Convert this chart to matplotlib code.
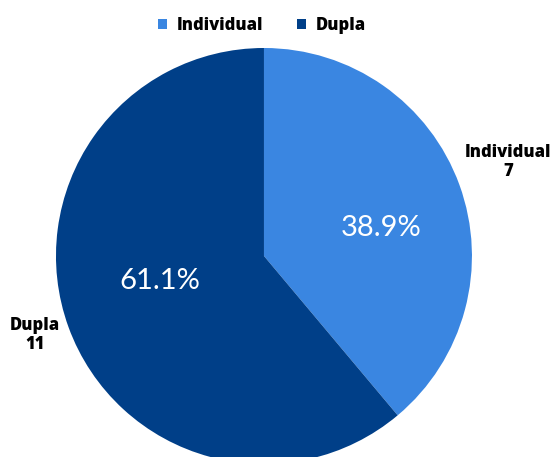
import matplotlib
matplotlib.use("Agg")
import matplotlib.pyplot as plt
import numpy as np

labels = ["Individual", "Dupla"]
counts = [7, 11]
colors = ["#3A86E1", "#003F88"]

plt.rcParams['font.family'] = ['Open Sans', 'DejaVu Sans']

fig = plt.figure(figsize=(5.52, 4.57), dpi=100)
# axes sized so the pie circle keeps its aspect, bottom gets clipped by the figure edge
ax = fig.add_axes([0.1014, -0.0153, 0.7536, 0.9103])

wedges, texts, autotexts = ax.pie(
    counts, colors=colors, startangle=90, counterclock=False,
    autopct='%1.1f%%', pctdistance=0.55,
    textprops=dict(color='white', fontsize=21, weight='normal',
                   family=['Lato', 'DejaVu Sans']),
    wedgeprops=dict(linewidth=0),
)
ax.set_xlim(-1, 1)
ax.set_ylim(-1, 1)
ax.set_aspect('equal')

# percentage labels
autotexts[0].set_position((0.565, 0.135))
autotexts[1].set_position((-0.50, -0.12))

# category + count labels outside the pie
outer = [(1.175, 0.452), (-1.10, -0.38)]
for lab, n, pos in zip(labels, counts, outer):
    ax.text(pos[0], pos[1], f"{lab}\n{n}", ha='center', va='center',
            fontsize=12, fontweight='heavy', color='black', linespacing=1.2,
            clip_on=False)

fig.legend(wedges, labels, loc='upper center', bbox_to_anchor=(0.475, 0.995),
           ncol=2, frameon=False, handlelength=0.55, handleheight=0.55,
           columnspacing=2.0, handletextpad=0.6,
           prop=dict(size=12, weight='heavy'))

fig.savefig("out.png", dpi=100)
